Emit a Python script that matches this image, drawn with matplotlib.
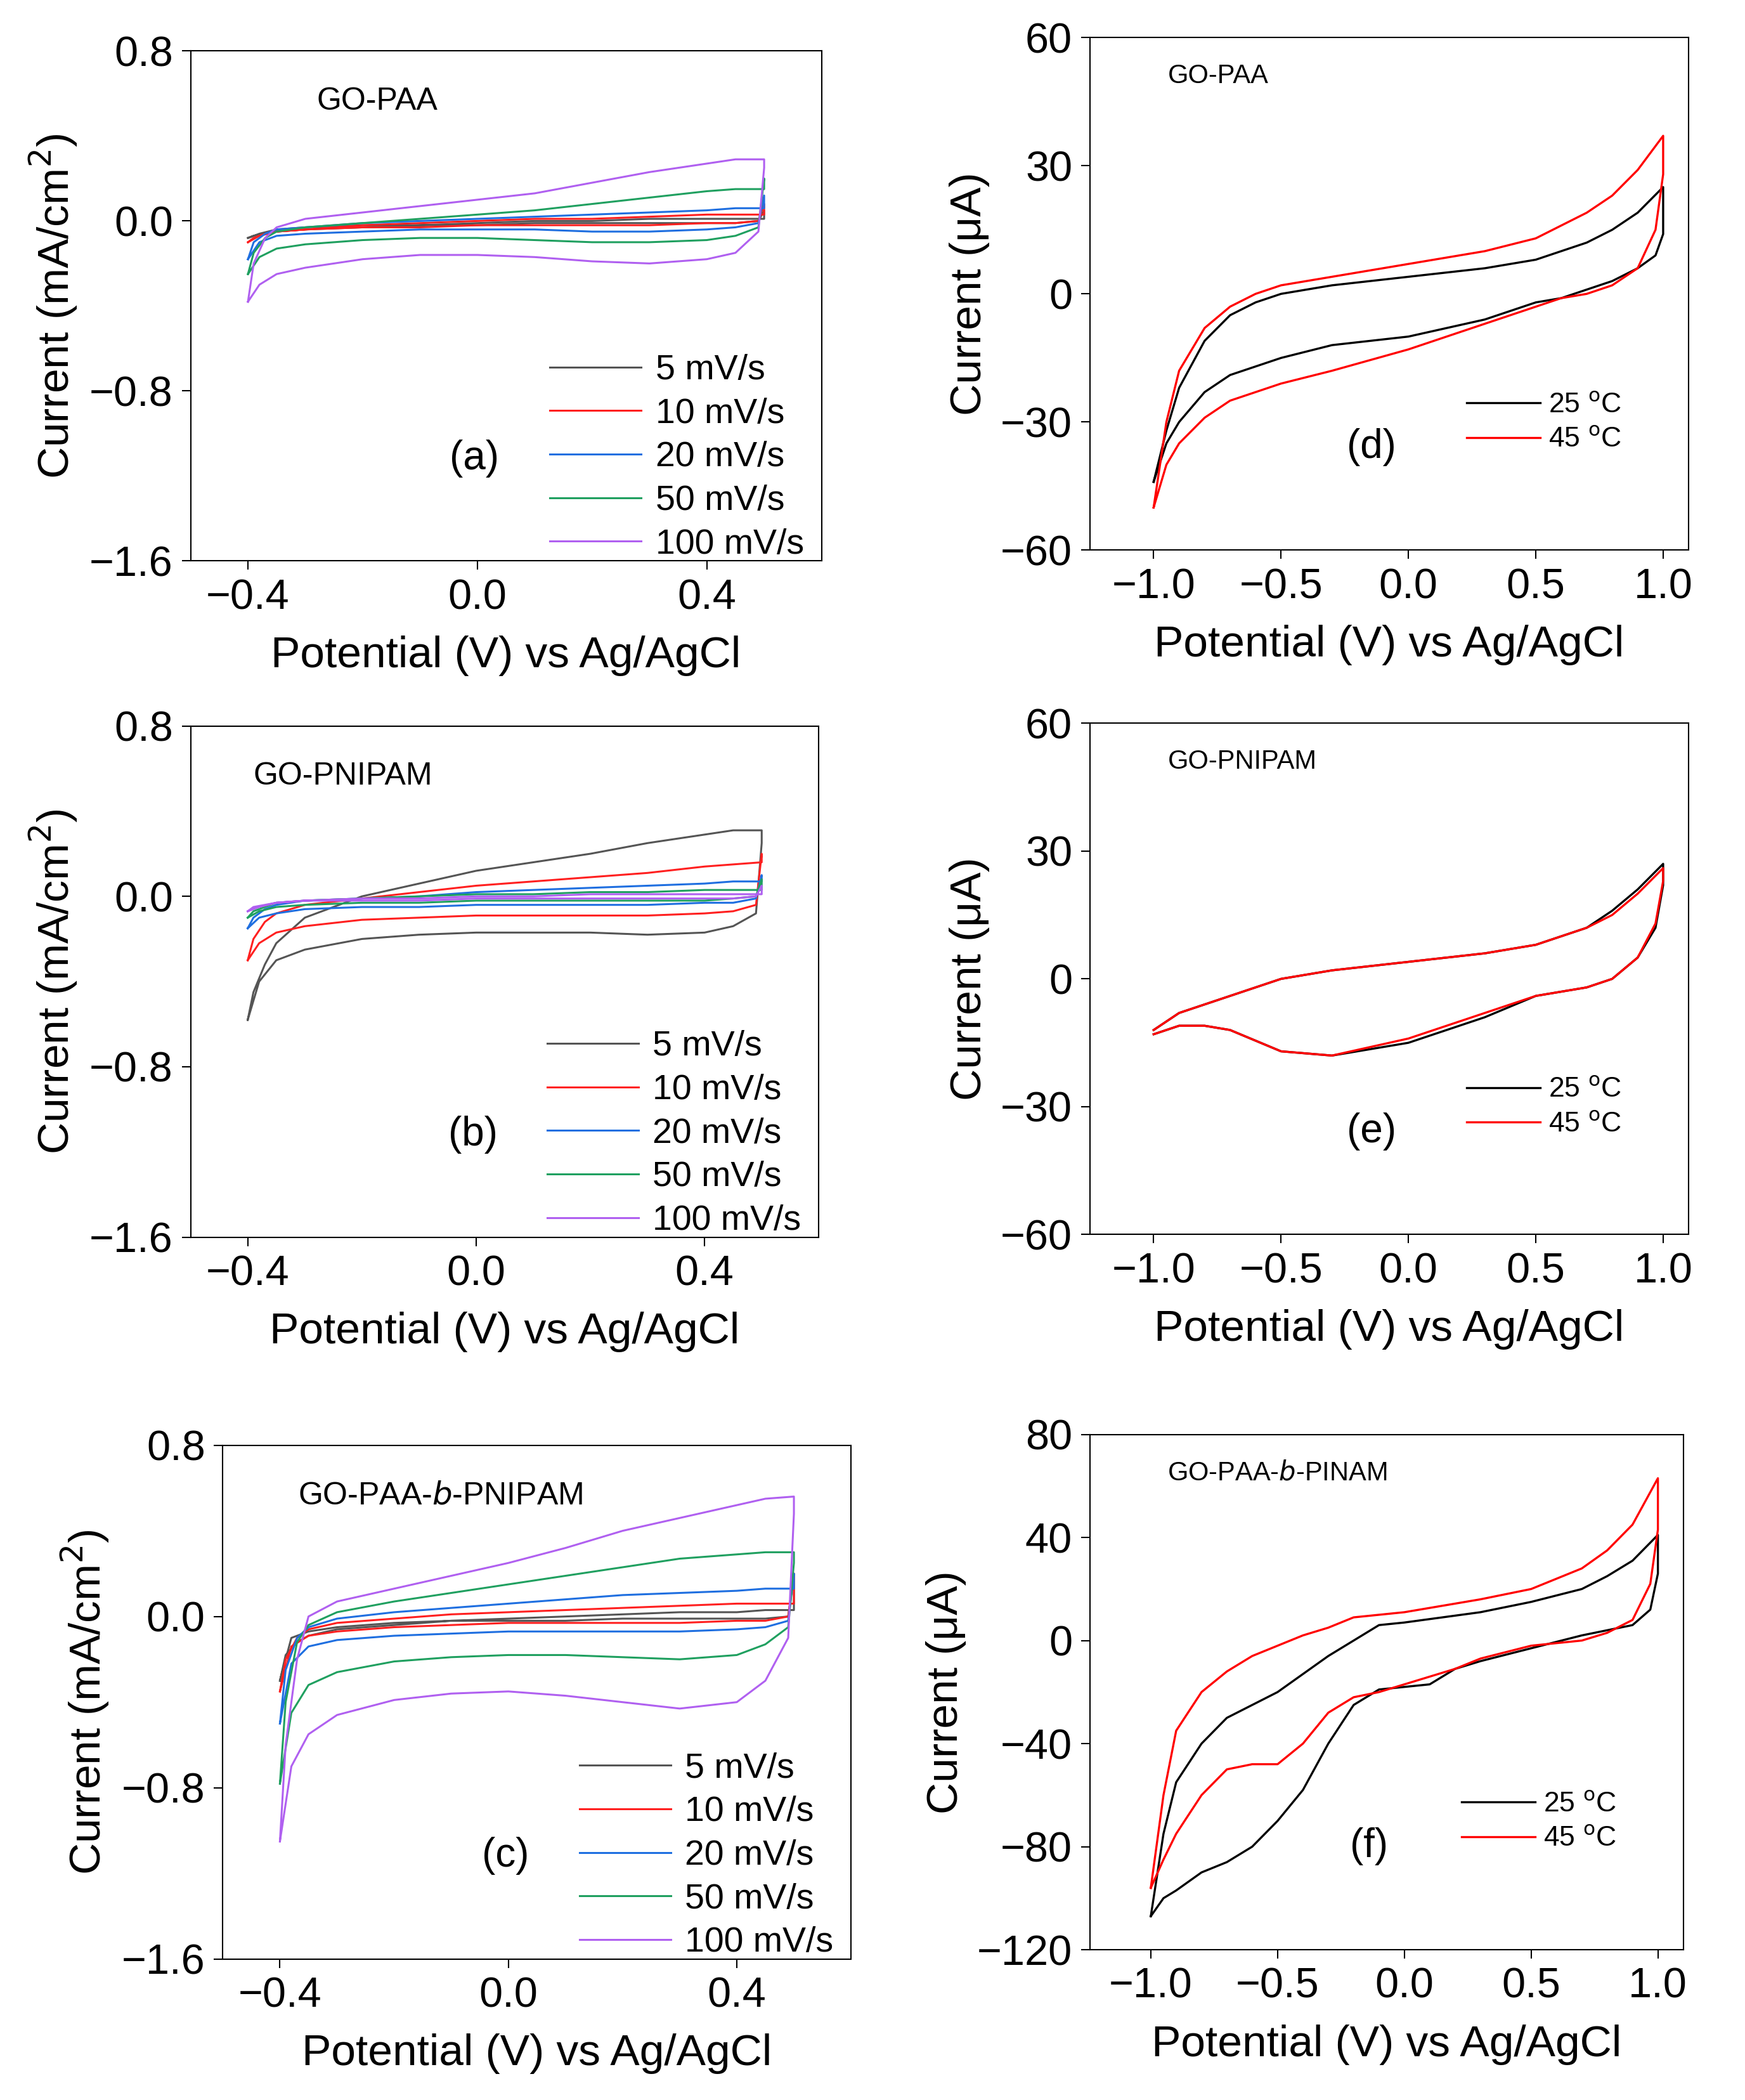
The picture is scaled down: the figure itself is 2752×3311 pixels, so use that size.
import matplotlib
matplotlib.use("Agg")
import matplotlib.pyplot as plt

plt.rcParams['font.family'] = ['Liberation Sans', 'DejaVu Sans']

rates = ["5 mV/s", "10 mV/s", "20 mV/s", "50 mV/s", "100 mV/s"]
rate_colors = ["#555555", "#ff2020", "#1f6fe0", "#20a060", "#b060f0"]
temps = ["25 $^{\\rm o}$C", "45 $^{\\rm o}$C"]
temp_colors = ["black", "red"]

# Left panels: closed loops (forward then reverse), potential in V, current in mA/cm2
xa = [-0.4, -0.39, -0.37, -0.35, -0.3, -0.2, -0.1, 0.0, 0.1, 0.2, 0.3, 0.4, 0.45, 0.5,
      0.5, 0.49, 0.45, 0.4, 0.3, 0.2, 0.1, 0.0, -0.1, -0.2, -0.3, -0.35, -0.38, -0.4]
a_vals = [
    [-0.08, -0.07, -0.06, -0.05, -0.04, -0.03, -0.02, -0.01, 0.0, 0.0, 0.01, 0.01, 0.01, 0.01,
     0.05, 0.0, -0.01, -0.01, -0.01, -0.01, -0.01, -0.02, -0.02, -0.02, -0.03, -0.04, -0.06, -0.08],
    [-0.1, -0.08, -0.06, -0.05, -0.04, -0.02, -0.01, 0.0, 0.01, 0.01, 0.02, 0.03, 0.03, 0.03,
     0.08, 0.0, -0.01, -0.01, -0.02, -0.02, -0.02, -0.02, -0.03, -0.03, -0.04, -0.05, -0.07, -0.1],
    [-0.18, -0.1, -0.06, -0.04, -0.03, -0.01, 0.0, 0.01, 0.02, 0.03, 0.04, 0.05, 0.06, 0.06,
     0.12, -0.01, -0.03, -0.04, -0.05, -0.05, -0.04, -0.04, -0.04, -0.05, -0.06, -0.07, -0.1, -0.18],
    [-0.25, -0.15, -0.08, -0.05, -0.03, -0.01, 0.01, 0.03, 0.05, 0.08, 0.11, 0.14, 0.15, 0.15,
     0.2, -0.03, -0.07, -0.09, -0.1, -0.1, -0.09, -0.08, -0.08, -0.09, -0.11, -0.13, -0.17, -0.25],
    [-0.38, -0.2, -0.08, -0.03, 0.01, 0.04, 0.07, 0.1, 0.13, 0.18, 0.23, 0.27, 0.29, 0.29,
     0.25, -0.05, -0.15, -0.18, -0.2, -0.19, -0.17, -0.16, -0.16, -0.18, -0.22, -0.25, -0.3, -0.38],
]
b_vals = [
    [-0.58, -0.45, -0.32, -0.22, -0.1, 0.0, 0.06, 0.12, 0.16, 0.2, 0.25, 0.29, 0.31, 0.31,
     0.25, -0.08, -0.14, -0.17, -0.18, -0.17, -0.17, -0.17, -0.18, -0.2, -0.25, -0.3, -0.4, -0.58],
    [-0.3, -0.2, -0.12, -0.08, -0.04, -0.01, 0.02, 0.05, 0.07, 0.09, 0.11, 0.14, 0.15, 0.16,
     0.2, -0.04, -0.07, -0.08, -0.09, -0.09, -0.09, -0.09, -0.1, -0.11, -0.14, -0.17, -0.22, -0.3],
    [-0.15, -0.1, -0.06, -0.04, -0.02, -0.01, 0.0, 0.02, 0.03, 0.04, 0.05, 0.06, 0.07, 0.07,
     0.1, -0.01, -0.03, -0.03, -0.04, -0.04, -0.04, -0.04, -0.05, -0.05, -0.06, -0.08, -0.1, -0.15],
    [-0.1, -0.07, -0.05, -0.03, -0.02, -0.01, 0.0, 0.01, 0.01, 0.02, 0.02, 0.03, 0.03, 0.03,
     0.08, 0.0, -0.01, -0.02, -0.02, -0.02, -0.02, -0.02, -0.03, -0.03, -0.04, -0.05, -0.07, -0.1],
    [-0.07, -0.05, -0.04, -0.03, -0.02, -0.01, -0.01, 0.0, 0.0, 0.01, 0.01, 0.01, 0.01, 0.01,
     0.05, 0.0, -0.01, -0.01, -0.01, -0.01, -0.01, -0.01, -0.02, -0.02, -0.02, -0.03, -0.05, -0.07],
]
c_vals = [
    [-0.3, -0.18, -0.12, -0.09, -0.06, -0.04, -0.02, -0.01, 0.0, 0.01, 0.02, 0.02, 0.03, 0.03,
     0.2, 0.0, -0.01, -0.01, -0.01, -0.01, -0.02, -0.02, -0.02, -0.03, -0.05, -0.07, -0.1, -0.3],
    [-0.35, -0.2, -0.1, -0.06, -0.03, -0.01, 0.01, 0.02, 0.03, 0.04, 0.05, 0.06, 0.06, 0.06,
     0.2, 0.0, -0.02, -0.02, -0.03, -0.03, -0.03, -0.03, -0.04, -0.05, -0.07, -0.09, -0.14, -0.35],
    [-0.5, -0.25, -0.1, -0.05, -0.01, 0.02, 0.04, 0.06, 0.08, 0.1, 0.11, 0.12, 0.13, 0.13,
     0.2, -0.02, -0.05, -0.06, -0.07, -0.07, -0.07, -0.07, -0.08, -0.09, -0.11, -0.14, -0.22, -0.5],
    [-0.78, -0.4, -0.12, -0.04, 0.02, 0.07, 0.11, 0.15, 0.19, 0.23, 0.27, 0.29, 0.3, 0.3,
     0.25, -0.05, -0.13, -0.18, -0.2, -0.19, -0.18, -0.18, -0.19, -0.21, -0.26, -0.32, -0.45, -0.78],
    [-1.05, -0.6, -0.2, 0.0, 0.07, 0.13, 0.19, 0.25, 0.32, 0.4, 0.46, 0.52, 0.55, 0.56,
     0.48, -0.1, -0.3, -0.4, -0.43, -0.4, -0.37, -0.35, -0.36, -0.39, -0.46, -0.55, -0.7, -1.05],
]

# Right panels: potential V, current uA
xd = [-1.0, -0.95, -0.9, -0.8, -0.7, -0.6, -0.5, -0.3, 0.0, 0.3, 0.5, 0.7, 0.8, 0.9, 1.0,
      1.0, 0.97, 0.9, 0.8, 0.7, 0.6, 0.5, 0.3, 0.0, -0.3, -0.5, -0.7, -0.8, -0.9, -0.95, -1.0]
d_vals = [
    [-44, -32, -22, -11, -5, -2, 0, 2, 4, 6, 8, 12, 15, 19, 25,
     14, 9, 6, 3, 1, -1, -2, -6, -10, -12, -15, -19, -23, -30, -35, -44],
    [-50, -30, -18, -8, -3, 0, 2, 4, 7, 10, 13, 19, 23, 29, 37,
     28, 15, 6, 2, 0, -1, -3, -7, -13, -18, -21, -25, -29, -35, -40, -50],
]
e_vals = [
    [-12, -10, -8, -6, -4, -2, 0, 2, 4, 6, 8, 12, 16, 21, 27,
     22, 12, 5, 0, -2, -3, -4, -9, -15, -18, -17, -12, -11, -11, -12, -13],
    [-12, -10, -8, -6, -4, -2, 0, 2, 4, 6, 8, 12, 15, 20, 26,
     23, 13, 5, 0, -2, -3, -4, -8, -14, -18, -17, -12, -11, -11, -12, -13],
]
xf = [-1.0, -0.95, -0.9, -0.8, -0.7, -0.6, -0.5, -0.4, -0.3, -0.2, -0.1, 0.0, 0.3, 0.5, 0.7, 0.8, 0.9, 1.0,
      1.0, 0.97, 0.9, 0.8, 0.7, 0.5, 0.3, 0.2, 0.1, 0.0, -0.1, -0.2, -0.3, -0.4, -0.5, -0.6, -0.7, -0.8,
      -0.9, -0.95, -1.0]
f_vals = [
    [-107, -75, -55, -40, -30, -25, -20, -13, -6, 0, 6, 7, 11, 15, 20, 25, 31, 41,
     26, 12, 6, 4, 2, -3, -8, -11, -17, -18, -19, -25, -40, -58, -70, -80, -86, -90, -97, -100, -107],
    [-96, -60, -35, -20, -12, -6, -2, 2, 5, 9, 10, 11, 16, 20, 28, 35, 45, 63,
     43, 22, 8, 3, 0, -2, -7, -11, -14, -17, -20, -22, -28, -40, -48, -48, -50, -60, -75, -85, -96],
]

W, H = 1300, 1565
fig = plt.figure(figsize=(27.52, 33.11), dpi=100)


def ax_at(l, t, r, b):
    return fig.add_axes([l / W, 1 - b / H, (r - l) / W, (b - t) / H])


def style(ax):
    ax.tick_params(labelsize=48, length=10, width=1.5, direction='out', pad=10)
    for s in ax.spines.values():
        s.set_linewidth(1.5)


left = [(142, 38, 612, 418, a_vals, "GO-PAA", "(a)", (0.2, 0.93)),
        (142, 541, 610, 922, b_vals, "GO-PNIPAM", "(b)", (0.1, 0.93)),
        (166, 1077, 634, 1460, c_vals, "GO-PAA-$b$-PNIPAM", "(c)", (0.12, 0.93))]
for l, t, r, b, vals, title, lab, tp in left:
    ax = ax_at(l, t, r, b)
    for v, c, n in zip(vals, rate_colors, rates):
        ax.plot(xa, v, color=c, lw=2.2, label=n, solid_joinstyle='round')
    ax.set_xlim(-0.5, 0.6)
    ax.set_ylim(-1.6, 0.8)
    ax.set_xticks([-0.4, 0.0, 0.4])
    ax.set_yticks([-1.6, -0.8, 0.0, 0.8])
    ax.set_xticklabels(["\u22120.4", "0.0", "0.4"])
    ax.set_yticklabels(["\u22121.6", "\u22120.8", "0.0", "0.8"])
    ax.set_xlabel("Potential (V) vs Ag/AgCl", fontsize=50, labelpad=20)
    ax.set_ylabel("Current (mA/cm$^2$)", fontsize=50, labelpad=12)
    ax.text(tp[0], tp[1], title, transform=ax.transAxes, fontsize=36, va='top')
    ax.text(0.45, 0.18, lab, transform=ax.transAxes, fontsize=46, ha='center')
    ax.legend(loc='lower right', bbox_to_anchor=(1.0, -0.035), frameon=False, fontsize=40,
              handlelength=2.6, labelspacing=0.3, borderaxespad=0.1, handletextpad=0.4)
    style(ax)

right = [(812, 28, 1258, 410, xd, d_vals, "GO-PAA", "(d)", (-60, 60), [-60, -30, 0, 30, 60], (-1.25, 1.1)),
         (812, 539, 1258, 920, xd, e_vals, "GO-PNIPAM", "(e)", (-60, 60), [-60, -30, 0, 30, 60], (-1.25, 1.1)),
         (812, 1069, 1254, 1453, xf, f_vals, "GO-PAA-$b$-PINAM", "(f)", (-120, 80),
          [-120, -80, -40, 0, 40, 80], (-1.24, 1.1))]
for l, t, r, b, xs, vals, title, lab, yl, yt, xl in right:
    ax = ax_at(l, t, r, b)
    for v, c, n in zip(vals, temp_colors, temps):
        ax.plot(xs, v, color=c, lw=2.4, label=n, solid_joinstyle='round')
    ax.set_xlim(*xl)
    ax.set_ylim(*yl)
    ax.set_xticks([-1.0, -0.5, 0.0, 0.5, 1.0])
    ax.set_xticklabels(["\u22121.0", "\u22120.5", "0.0", "0.5", "1.0"])
    ax.set_yticks(yt)
    ax.set_yticklabels([("\u2212" + str(-y)) if y < 0 else str(y) for y in yt])
    ax.set_xlabel("Potential (V) vs Ag/AgCl", fontsize=50, labelpad=20)
    ax.set_ylabel("Current (\u03bcA)", fontsize=50, labelpad=12)
    ax.text(0.13, 0.95, title, transform=ax.transAxes, fontsize=30, va='top')
    ax.text(0.47, 0.18, lab, transform=ax.transAxes, fontsize=46, ha='center')
    ax.legend(loc='lower right', bbox_to_anchor=(0.93, 0.14), frameon=False, fontsize=32,
              handlelength=2.6, labelspacing=0.3, handletextpad=0.3)
    style(ax)

fig.savefig("out.png", dpi=100)
